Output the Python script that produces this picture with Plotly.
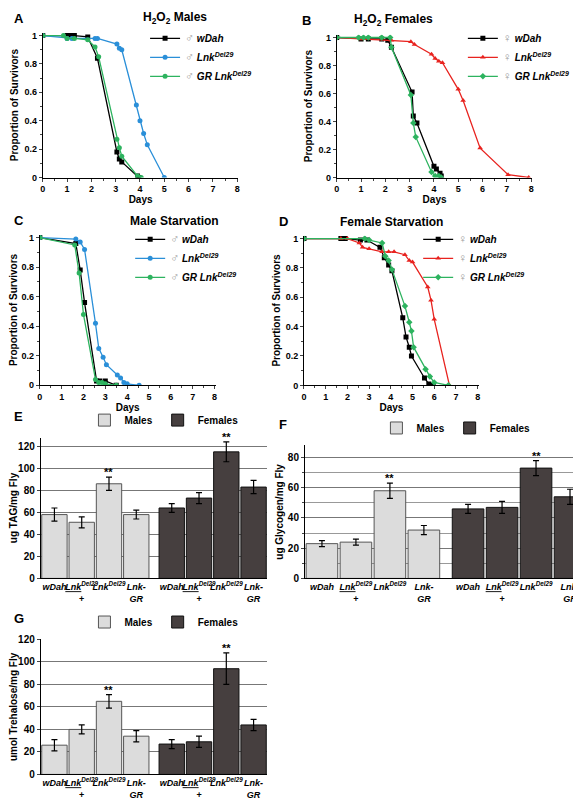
import plotly.graph_objects as go

# ---------- survival data ----------
A_wdah_x = [0, 1, 1.1, 1.2, 1.3, 1.85, 2.25, 3.05, 3.15, 3.25, 3.9, 3.95]
A_wdah_y = [1, 1, 1, 1, 1, 0.99, 0.84, 0.18, 0.13, 0.11, 0.01, 0]
A_lnk_x = [0, 1, 1.2, 2.15, 2.25, 3.05, 3.15, 3.25, 3.85, 4.0, 4.15, 4.3, 5.0]
A_lnk_y = [1, 0.98, 0.98, 0.98, 0.98, 0.94, 0.91, 0.90, 0.51, 0.40, 0.31, 0.23, 0]
A_gr_x = [0, 0.85, 1, 1.3, 1.85, 2.15, 2.3, 3.05, 3.15, 3.25, 3.9, 4.05]
A_gr_y = [1, 1, 0.98, 0.98, 0.97, 0.92, 0.85, 0.27, 0.21, 0.15, 0.01, 0]

B_wdah_x = [0, 1, 1.3, 1.85, 2.1, 2.25, 3.1, 3.15, 3.3, 4.0, 4.1, 4.25, 4.3]
B_wdah_y = [1, 0.99, 0.99, 0.99, 0.98, 0.93, 0.61, 0.44, 0.39, 0.08, 0.06, 0.03, 0.01]
B_lnk_x = [0, 1, 2.25, 3.05, 3.2, 3.9, 4.05, 4.2, 4.35, 5.0, 5.2, 5.9, 7.05, 7.9]
B_lnk_y = [1, 0.99, 0.98, 0.97, 0.95, 0.88, 0.85, 0.83, 0.82, 0.63, 0.55, 0.21, 0.02, 0]
B_gr_x = [0, 0.9, 1.1, 1.3, 1.85, 2.2, 2.25, 3.05, 3.15, 3.25, 3.9, 4.05, 4.2, 4.3]
B_gr_y = [1, 1, 1, 1, 1, 1, 0.93, 0.59, 0.39, 0.29, 0.04, 0.01, 0.01, 0]

C_wdah_x = [0, 1.65, 1.85, 2.05, 2.6, 2.75, 3.0, 3.5]
C_wdah_y = [1, 0.96, 0.78, 0.56, 0.03, 0.03, 0.03, 0]
C_lnk_x = [0, 1.65, 1.85, 2.05, 2.55, 2.7, 2.9, 3.05, 3.55, 3.7, 3.85, 4.0, 4.55]
C_lnk_y = [1, 0.99, 0.97, 0.92, 0.42, 0.25, 0.19, 0.14, 0.07, 0.05, 0.02, 0.01, 0]
C_gr_x = [0, 1.6, 1.8, 2.0, 2.55, 2.7, 2.85, 3.0, 3.5]
C_gr_y = [1, 0.95, 0.76, 0.48, 0.04, 0.02, 0.02, 0.01, 0]

D_wdah_x = [0, 1.7, 1.9, 2.6, 2.9, 3.5, 3.7, 3.9, 4.05, 4.55, 4.7, 4.85, 4.95, 5.55, 5.75, 5.95]
D_wdah_y = [1, 1, 1, 0.99, 0.99, 0.94, 0.87, 0.82, 0.78, 0.46, 0.33, 0.26, 0.20, 0.05, 0.01, 0]
D_lnk_x = [0, 1.7, 2.0, 2.55, 2.7, 3.0, 3.6, 3.9, 4.15, 4.65, 4.85, 5.0, 5.7, 5.85, 6.0, 6.7]
D_lnk_y = [1, 1, 1, 0.97, 0.94, 0.93, 0.91, 0.91, 0.91, 0.89, 0.85, 0.84, 0.67, 0.58, 0.45, 0]
D_gr_x = [0, 2.8, 3.0, 3.6, 3.75, 3.9, 4.05, 4.65, 4.85, 4.95, 5.05, 5.6, 5.8, 6.0, 6.65]
D_gr_y = [1, 1, 0.99, 0.97, 0.88, 0.85, 0.79, 0.54, 0.43, 0.37, 0.26, 0.11, 0.06, 0.02, 0]

# ---------- bar data ----------
bar_labels = ["<i>wDah</i>", "<i><u>Lnk</u><sup>Del29</sup></i><br>+", "<i>Lnk<sup>Del29</sup></i>", "<i>Lnk-<br>GR</i>"]
E_m = [58, 51, 86, 58]; E_m_err = [6, 5, 6, 4]
E_f = [64, 73, 115, 83]; E_f_err = [4, 5, 9, 6]
F_m = [23, 24, 58, 32]; F_m_err = [2, 2, 5, 3]
F_f = [46, 47, 73, 54]; F_f_err = [3, 4, 5, 5]
G_m = [26, 40, 65, 34]; G_m_err = [5, 4, 6, 5]
G_f = [27, 29, 94, 44]; G_f_err = [4, 5, 14, 5]

W, H = 581, 800
FONT = "Liberation Sans"
fig = go.Figure()
ann = []

def px(x): return x / W
def py(y): return 1 - y / H

BLUE = "#2a8fd8"; RED = "#e8231f"; GREEN = "#2db35f"

def line_panel(idx, xd, yd, title, letter, series, legend_pos):
    xa = "x" if idx == 1 else f"x{idx}"
    ya = "y" if idx == 1 else f"y{idx}"
    lg = "legend" if idx == 1 else f"legend{idx}"
    for (x, y, name, col, sym) in series:
        fig.add_trace(go.Scatter(x=x, y=y, mode="lines+markers", name=name,
                                 line=dict(color=col, width=1.3),
                                 marker=dict(color=col, symbol=sym, size=5),
                                 xaxis=xa, yaxis=ya, legend=lg))
    ax = dict(domain=[px(xd[0]), px(xd[1])], range=[0, 8.05], tickvals=list(range(9)),
              ticktext=[f"<b>{i}</b>" for i in range(9)],
              ticks="outside", ticklen=3, showline=True, linecolor="black", showgrid=False,
              zeroline=False, anchor=ya, title=dict(text="<b>Days</b>", font=dict(size=10), standoff=2),
              tickfont=dict(size=9, family=FONT, color="black"),
              minor=dict(ticks="outside", ticklen=2, dtick=0.5))
    ay = dict(domain=[py(yd[1]), py(yd[0])], range=[0, 1.02], tickvals=[0, 0.2, 0.4, 0.6, 0.8, 1],
              ticktext=["<b>0</b>", "<b>0.2</b>", "<b>0.4</b>", "<b>0.6</b>", "<b>0.8</b>", "<b>1</b>"],
              ticks="outside", ticklen=3, showline=True, linecolor="black", showgrid=False,
              zeroline=False, anchor=xa, title=dict(text="<b>Proportion of Survivors</b>", font=dict(size=10), standoff=3),
              tickfont=dict(size=9, family=FONT, color="black"),
              minor=dict(ticks="outside", ticklen=2, dtick=0.1))
    fig.update_layout(**{("xaxis" if idx == 1 else f"xaxis{idx}"): ax,
                         ("yaxis" if idx == 1 else f"yaxis{idx}"): ay,
                         lg: dict(x=px(legend_pos[0]), y=py(legend_pos[1]), xanchor="left", yanchor="top",
                                  bgcolor="rgba(0,0,0,0)", font=dict(size=10, family=FONT), tracegroupgap=0,
                                  itemwidth=30)})
    ann.append(dict(text=f"<b>{title}</b>", x=px((xd[0] + xd[1]) / 2), y=py(yd[0] - 5), xref="paper", yref="paper",
                    showarrow=False, yanchor="bottom", font=dict(size=12, family=FONT)))
    ann.append(dict(text=f"<b>{letter}</b>", x=px(letter_x[letter]), y=py(yd[0] - 5), xref="paper", yref="paper",
                    showarrow=False, xanchor="left", yanchor="bottom", font=dict(size=13, family=FONT)))

letter_x = {"A": 1, "B": 291, "C": 1, "D": 268, "E": 1, "F": 268, "G": 1}
male = "<span style='color:#999;font-size:12px'>♂</span>"
fem = "<span style='color:#999;font-size:12px'>♀</span>"
lnk = "<b><i>Lnk<sup>Del29</sup></i></b>"
grl = "<b><i>GR Lnk<sup>Del29</sup></i></b>"
wd = "<b><i>wDah</i></b>"

line_panel(1, (32, 229), (19, 166), "H<sub>2</sub>O<sub>2</sub> Males", "A",
           [(A_wdah_x, A_wdah_y, f"{male} {wd}", "black", "square"),
            (A_lnk_x, A_lnk_y, f"{male} {lnk}", BLUE, "circle"),
            (A_gr_x, A_gr_y, f"{male} {grl}", GREEN, "circle")], (135, 10))
line_panel(2, (328, 525), (21, 166), "H<sub>2</sub>O<sub>2</sub> Females", "B",
           [(B_wdah_x, B_wdah_y, f"{fem} {wd}", "black", "square"),
            (B_lnk_x, B_lnk_y, f"{fem} {lnk}", RED, "triangle-up"),
            (B_gr_x, B_gr_y, f"{fem} {grl}", GREEN, "diamond")], (455, 10))
line_panel(3, (29, 206), (224, 377), "Male Starvation", "C",
           [(C_wdah_x, C_wdah_y, f"{male} {wd}", "black", "square"),
            (C_lnk_x, C_lnk_y, f"{male} {lnk}", BLUE, "circle"),
            (C_gr_x, C_gr_y, f"{male} {grl}", GREEN, "circle")], (120, 214))
line_panel(4, (295, 471), (225, 377), "Female Starvation", "D",
           [(D_wdah_x, D_wdah_y, f"{fem} {wd}", "black", "square"),
            (D_lnk_x, D_lnk_y, f"{fem} {lnk}", RED, "triangle-up"),
            (D_gr_x, D_gr_y, f"{fem} {grl}", GREEN, "diamond")], (410, 214))

pos_m = [0, 1, 2, 3]
pos_f = [4.3, 5.3, 6.3, 7.3]

def bar_panel(idx, xd, yd, m, me, f, fe, ytitle, ymax, yrange, dtick, letter):
    xa = f"x{idx}"; ya = f"y{idx}"; lg = f"legend{idx}"
    fig.add_trace(go.Bar(x=pos_m, y=m, name="<b>Males</b>", marker=dict(color="#dcdcdc", line=dict(color="#555", width=1)),
                         error_y=dict(type="data", array=me, color="black", thickness=1.2, width=3),
                         width=0.93, xaxis=xa, yaxis=ya, legend=lg))
    fig.add_trace(go.Bar(x=pos_f, y=f, name="<b>Females</b>", marker=dict(color="#463f3f", line=dict(color="#111", width=1)),
                         error_y=dict(type="data", array=fe, color="black", thickness=1.2, width=3),
                         width=0.93, xaxis=xa, yaxis=ya, legend=lg))
    ys = m + f; es = me + fe; xs = pos_m + pos_f
    for i in (2, 6):
        fig.add_annotation(x=xs[i], y=ys[i] + es[i], text="<b>**</b>", showarrow=False, yanchor="bottom",
                           xref=xa, yref=ya, font=dict(size=11, family=FONT), yshift=-3)
    yax = dict(domain=[py(yd[1]), py(yd[0])], range=yrange, anchor=xa,
               showline=True, linecolor="black", ticks="outside", ticklen=3,
               gridcolor="#777", gridwidth=1, zeroline=False,
               tickvals=list(range(0, ymax + 1, 20)),
               ticktext=[f"<b>{v}</b>" for v in range(0, ymax + 1, 20)],
               title=dict(text=f"<b>{ytitle}</b>", font=dict(size=10), standoff=2),
               tickfont=dict(size=10, family=FONT, color="black"))
    if dtick == 10:
        yax["minor"] = dict(dtick=10, showgrid=True, gridcolor="#999", ticks="outside", ticklen=2)
    fig.update_layout(**{f"xaxis{idx}": dict(domain=[px(xd[0]), px(xd[1])], range=[-0.5, 7.8], anchor=ya,
                                              tickvals=xs, ticktext=[f"<b>{t}</b>" for t in bar_labels * 2],
                                              ticks="", showline=True, linecolor="black", tickangle=0,
                                              tickfont=dict(size=9, family=FONT, color="black")),
                         f"yaxis{idx}": yax,
                         lg: dict(orientation="h", x=px((xd[0] + xd[1]) / 2 + 10), y=py(yd[0] - 3), xanchor="center",
                                  yanchor="bottom", font=dict(size=10, family=FONT), bgcolor="rgba(0,0,0,0)")})
    ann.append(dict(text=f"<b>{letter}</b>", x=px(letter_x[letter]), y=py(yd[0] - 12), xref="paper", yref="paper",
                    showarrow=False, xanchor="left", yanchor="bottom", font=dict(size=13, family=FONT)))

bar_panel(5, (30, 258), (430, 573), E_m, E_m_err, E_f, E_f_err, "ug TAG/mg Fly", 120, [0, 128], 20, "E")
bar_panel(6, (296, 580), (438, 573), F_m, F_m_err, F_f, F_f_err, "ug Glycogen/mg Fly", 80, [0, 88], 10, "F")
bar_panel(7, (30, 258), (635, 772), G_m, G_m_err, G_f, G_f_err, "umol Trehalose/mg Fly", 120, [0, 120], 20, "G")

for a in ann:
    fig.add_annotation(**a)

fig.update_layout(width=W, height=H, margin=dict(l=0, r=0, t=0, b=0), plot_bgcolor="white",
                  paper_bgcolor="white", font=dict(family=FONT, color="black"), barmode="overlay")
fig.write_html("out.html")
